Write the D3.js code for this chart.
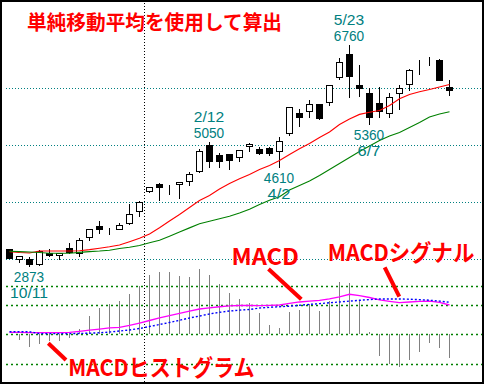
<!DOCTYPE html>
<html><head><meta charset="utf-8">
<script src="https://cdn.jsdelivr.net/npm/d3@7"></script>
<style>html,body{margin:0;padding:0;background:#fff;} svg{display:block}</style>
</head><body>
<script>
// ---- weekly candles (price, yen) ----
const open  = [3170,3005,3005,2918,3100,3070,3188,3100,3391,3579,3549,3532,3637,3847,4198,4316,4300,4316,4374,4544,4995,4825,4842,4795,4982,4925,4942,4895,5205,5556,5591,5714,5749,6198,6591,6053,5907,5732,5556,5907,6075,6409,6451,6491,6018];
const high  = [3181,3060,3030,3153,3181,3110,3281,3368,3526,3667,3549,3632,3965,4023,4270,4328,4300,4351,4526,4935,5050,4865,4842,4907,5040,4970,4960,5135,5667,5632,5790,5714,6047,6521,6760,6404,5995,6023,5918,6053,6333,6491,6539,6509,6135];
const low   = [3012,2953,2873,2900,3053,3000,3110,3058,3333,3461,3444,3532,3619,3760,4170,4030,4135,4075,4293,4526,4619,4619,4584,4714,4895,4847,4825,4610,5175,5339,5497,5451,5697,6153,5847,5860,5360,5497,5497,5632,5960,6240,6404,6146,5877];
const close = [3023,3053,2918,3140,3065,3105,3128,3333,3521,3526,3539,3591,3789,3995,4258,4258,4293,4351,4491,4900,4725,4725,4737,4907,5018,4865,4854,5075,5661,5486,5714,5479,6047,6461,6216,6005,5486,5596,5837,6000,6321,6409,6451,6146,5960];
// simple moving averages
const maShort = [3128,3114,3105,3140,3140,3140,3140,3146,3165,3189,3214,3246,3304,3363,3439,3549,3667,3781,3904,4026,4114,4228,4323,4409,4482,4570,4640,4728,4833,4933,5025,5132,5228,5360,5456,5537,5575,5605,5693,5812,5886,5933,5974,6018,6061];
const maLong  = [3137,3130,3123,3114,3102,3100,3102,3116,3130,3140,3154,3184,3205,3237,3284,3328,3400,3474,3546,3619,3661,3707,3749,3807,3874,3956,4032,4091,4211,4289,4368,4465,4570,4675,4781,4886,4982,5079,5158,5219,5307,5395,5491,5544,5582];
// MACD panel
const macd   = [20,20,17,17,17,17,19,30,42,53,65,71,90,115,141,167,192,215,238,259,271,282,290,295,297,294,296,300,317,331,339,348,362,384,410,397,377,353,338,324,331,338,339,326,300];
const signal = [26,26,26,6,6,6,6,8,11,15,23,33,44,59,79,100,121,143,167,187,208,225,238,247,254,269,276,282,288,297,306,314,323,331,340,348,356,362,362,362,359,355,349,340,328];
const hist   = [0,-62,-131,-96,-72,-69,-34,52,188,268,309,343,412,497,611,642,642,600,590,670,611,515,419,361,319,213,96,62,230,247,309,240,343,539,522,343,18,-224,-309,-333,-265,-178,-85,-137,-240];
const priceTicks = [3000,4000,5000,6000];
const macdTicks  = [-300,0,300,500];
const annLow  = [{i:2, price:"2873", date:"10/11"},{i:27, price:"4610", date:"4/2"},{i:36, price:"5360", date:"6/7"}];
const annHigh = [{i:20, price:"5050", date:"2/12"},{i:34, price:"6760", date:"5/23"}];
const title = "単純移動平均を使用して算出";

const W=484, H=384;
const svg = d3.select("body").append("svg").attr("width",W).attr("height",H);
svg.append("rect").attr("width",W).attr("height",H).attr("fill","#fff");

const n = open.length;
const x = d3.scaleLinear().domain([0,n-1]).range([9.5,449.5]);
const y = d3.scaleLinear().domain([3000,7000]).range([259,31]);
const my = d3.scaleLinear().domain([-300,500]).range([363.5,285.5]);
const crisp = v => Math.round(v)+0.5;
const cx = i => Math.floor(x(i))+0.5;

// grids
svg.append("g").selectAll("line").data(priceTicks).join("line")
  .attr("x1",6).attr("x2",482).attr("y1",d=>crisp(y(d))).attr("y2",d=>crisp(y(d)))
  .attr("stroke","#008080").attr("stroke-dasharray","1,2");
svg.append("g").selectAll("line").data(macdTicks).join("line")
  .attr("x1",6).attr("x2",482).attr("y1",d=>crisp(my(d))).attr("y2",d=>crisp(my(d)))
  .attr("stroke","#008000").attr("stroke-width",1.3).attr("stroke-dasharray","2,3");
svg.append("line").attr("x1",144.5).attr("x2",144.5).attr("y1",0).attr("y2",H)
  .attr("stroke","#000").attr("stroke-dasharray","1,2");

// histogram
svg.append("g").selectAll("line").data(hist).join("line")
  .attr("x1",(d,i)=>cx(i)).attr("x2",(d,i)=>cx(i))
  .attr("y1",Math.round(my(0))).attr("y2",d=>Math.round(my(d)))
  .attr("stroke","#808080").attr("stroke-width",1);

// MACD lines
const idx = d3.range(n);
svg.append("path").datum(idx).attr("fill","none").attr("stroke","#ff00ff").attr("stroke-width",1.3)
  .attr("d", d3.line().x(i=>x(i)).y(i=>my(macd[i])));
svg.append("path").datum(idx).attr("fill","none").attr("stroke","#0000ff").attr("stroke-width",1.4)
  .attr("stroke-dasharray","2,2")
  .attr("d", d3.line().x(i=>x(i)).y(i=>my(signal[i])));

// candles
const cg = svg.append("g");
idx.forEach(i=>{
  const xc = cx(i);
  cg.append("line").attr("x1",xc).attr("x2",xc).attr("y1",Math.round(y(high[i]))).attr("y2",Math.round(y(low[i]))+1)
    .attr("stroke","#000");
  const top = crisp(y(Math.max(open[i],close[i])));
  const bot = crisp(y(Math.min(open[i],close[i])));
  cg.append("rect").attr("x",xc-3).attr("width",6).attr("y",top).attr("height",Math.max(0,bot-top))
    .attr("fill", close[i] < open[i] ? "#000" : "#fff").attr("stroke","#000");
});

// moving averages
svg.append("path").datum(idx).attr("fill","none").attr("stroke","#ff0000").attr("stroke-width",1.1)
  .attr("d", d3.line().x(i=>x(i)).y(i=>y(maShort[i])));
svg.append("path").datum(idx).attr("fill","none").attr("stroke","#008000").attr("stroke-width",1.1)
  .attr("d", d3.line().x(i=>x(i)).y(i=>y(maLong[i])));

// teal annotations
const LS = 15.9;
const tealText = (s, xc, yb) => svg.append("text").text(s).attr("x",xc).attr("y",yb)
  .attr("fill","#008080").attr("text-anchor","middle")
  .attr("font-family","Liberation Sans, Arial, sans-serif")
  .attr("font-size",14)
  .attr("textLength", s.length*7.6).attr("lengthAdjust","spacingAndGlyphs");
annLow.forEach(a=>{
  const yl = y(low[a.i]);
  tealText(a.price, x(a.i)-0.5, yl+16);
  tealText(a.date,  x(a.i)-0.5, yl+16+LS);
});
annHigh.forEach(a=>{
  const yh = y(high[a.i]);
  tealText(a.price, x(a.i)-0.5, yh-4);
  tealText(a.date,  x(a.i)-0.5, yh-4-LS);
});

// red labels
const redText = (t, x0, yb, fs, len) => svg.append("text").text(t).attr("x",x0).attr("y",yb)
  .attr("fill","#ff0000").attr("font-family","Noto Sans CJK JP, sans-serif").attr("font-weight","bold")
  .attr("font-size",fs).attr("textLength",len).attr("lengthAdjust","spacingAndGlyphs");
redText(title, 27, 30.3, 20, 255);
redText("MACD", 231.5, 265.3, 22.7, 67.5);
redText("MACDシグナル", 327.7, 261, 22.7, 146.6);
redText("MACDヒストグラム", 68.3, 376, 23, 186.4);
const pointers = [[268.5,269,301.3,299.3],[384.7,267.3,399.3,296.7],[48.3,343.3,66,360]];
svg.append("g").selectAll("line").data(pointers).join("line")
  .attr("x1",d=>d[0]).attr("y1",d=>d[1]).attr("x2",d=>d[2]).attr("y2",d=>d[3])
  .attr("stroke","#ff0000").attr("stroke-width",4);

// frame
svg.append("rect").attr("x",1).attr("y",1).attr("width",W-2).attr("height",H-2)
  .attr("fill","none").attr("stroke","#000").attr("stroke-width",2);
</script>
</body></html>
